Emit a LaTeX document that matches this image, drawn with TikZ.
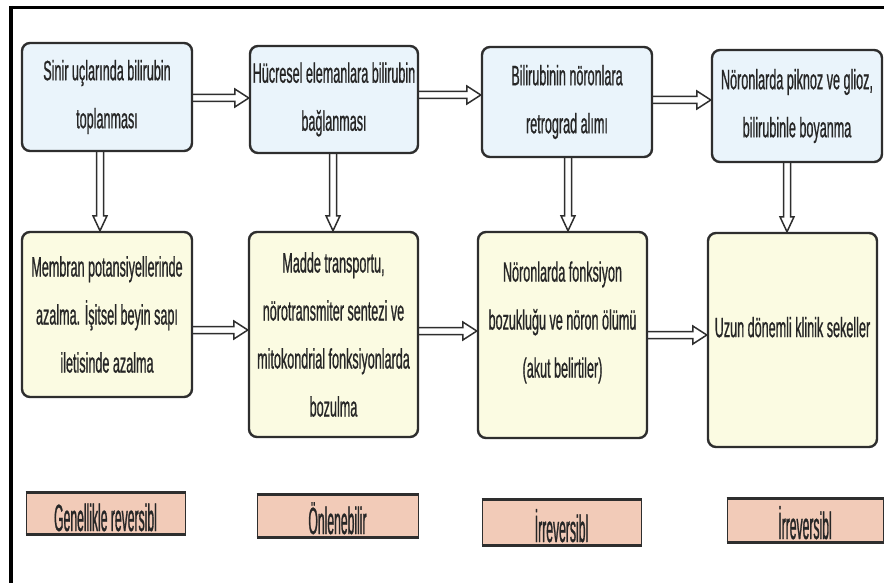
\documentclass[tikz,border=0pt]{standalone}
\usepackage{fontspec}
\setmainfont{Liberation Sans}
\newfontfamily\fontA[FakeStretch=0.45,FakeBold=0.7]{Liberation Sans}
\newfontfamily\fontC[FakeStretch=0.32,FakeBold=0.7]{Liberation Sans}
\usetikzlibrary{calc,backgrounds}
\definecolor{bluefill}{HTML}{EAF4FB}
\definecolor{yelfill}{HTML}{FBFBE2}
\definecolor{salfill}{HTML}{F2CBB8}
\definecolor{edge}{HTML}{2E2E2E}
\newcommand\harrow[2]{\path[arrowline] let \p1=(#1), \p2=(#2) in
  (\x1,\y1+3.5pt) -- (\x2-14pt,\y1+3.5pt) -- (\x2-14pt,\y1+9pt) -- (\x2,\y1)
  -- (\x2-14pt,\y1-9pt) -- (\x2-14pt,\y1-3.5pt) -- (\x1,\y1-3.5pt);}
\newcommand\varrow[2]{\path[arrowline] let \p1=(#1), \p2=(#2) in
  (\x1+3.5pt,\y1) -- (\x1+3.5pt,\y2+15pt) -- (\x1+7pt,\y2+15pt) -- (\x1,\y2)
  -- (\x1-7pt,\y2+15pt) -- (\x1-3.5pt,\y2+15pt) -- (\x1-3.5pt,\y1);}
\begin{document}
\begin{tikzpicture}[x=1pt,y=-1pt,
  box/.style={draw=edge, line width=2.4pt, rounded corners=8pt, inner sep=0pt,
    align=center, text=black!85, font=\fontA\fontsize{28}{48}\selectfont},
  toprow/.style={box, fill=bluefill},
  midrow/.style={box, fill=yelfill},
  tag/.style={draw=edge, line width=1pt, fill=salfill, inner sep=0pt,
    text=black!85, font=\fontC\fontsize{38}{38}\selectfont, text depth=3pt},
  tagline/.style={draw=edge, line width=3pt},
  arrowline/.style={draw=edge, line width=1.5pt, fill=white, line join=miter},
  frame/.style={draw=black}]
\useasboundingbox (0,0) rectangle (884,583);

% top row
\node[toprow, minimum width=170pt, minimum height=108pt] (n1) at (107,97)
  {Sinir uçlarında bilirubin\\toplanması};
\node[toprow, minimum width=168pt, minimum height=107pt] (n2) at (334,99.5)
  {Hücresel elemanlara bilirubin\\bağlanması};
\node[toprow, minimum width=170pt, minimum height=110pt] (n3) at (567,102)
  {Bilirubinin nöronlara\\retrograd alımı};
\node[toprow, minimum width=170pt, minimum height=112pt] (n4) at (797,106)
  {Nöronlarda piknoz ve glioz,\\bilirubinle boyanma};

% middle row
\node[midrow, minimum width=170pt, minimum height=165pt] (n5) at (107,314.5)
  {Membran potansiyellerinde\\azalma. İşitsel beyin sapı\\iletisinde azalma};
\node[midrow, minimum width=169pt, minimum height=205pt] (n6) at (333.5,334.5)
  {Madde transportu,\\nörotransmiter sentezi ve\\mitokondrial fonksiyonlarda\\bozulma};
\node[midrow, minimum width=169pt, minimum height=206pt, text depth=31pt] (n7) at (562.5,335)
  {Nöronlarda fonksiyon\\bozukluğu ve nöron ölümü\\(akut belirtiler)};
\node[midrow, minimum width=169pt, minimum height=214pt, text depth=26pt] (n8) at (792.5,340)
  {Uzun dönemli klinik sekeller};

% bottom tags
\node[tag, minimum width=159pt, text height=38pt] (b1) at (105.5,513.5) {Genellikle reversibl};
\node[tag, minimum width=161pt, text height=39pt] (b2) at (337.5,516) {Önlenebilir};
\node[tag, minimum width=159pt, text height=42pt] (b3) at (561.5,522.5) {İrreversibl};
\node[tag, minimum width=156pt, text height=40pt] (b4) at (805,520.5) {İrreversibl};
\foreach \b in {b1,b2,b3,b4}{
  \draw[tagline] (\b.north west) -- (\b.north east);
  \draw[tagline] (\b.south west) -- (\b.south east);
}

\begin{pgfonlayer}{background}
\fill[white] (0,0) rectangle (884,583);
\harrow{$(n1.east)+(0,1)$}{n2.west}
\harrow{$(n2.east)+(0,-4.5)$}{n3.west}
\harrow{$(n3.east)+(0,-2)$}{n4.west}
\harrow{$(n5.east)+(0,15.5)$}{n6.west}
\harrow{$(n6.east)+(0,-3.5)$}{n7.west}
\harrow{n7.east}{n8.west}
\varrow{$(n1.south)+(-7,0)$}{n5.north}
\varrow{$(n2.south)+(-1,0)$}{n6.north}
\varrow{$(n3.south)+(1,0)$}{n7.north}
\varrow{$(n4.south)+(-10,0)$}{n8.north}
\end{pgfonlayer}

% outer frame
\draw[frame, line width=3pt] (9,7.5) -- (884,7.5);
\draw[frame, line width=4pt] (11,6) -- (11,583);
\end{tikzpicture}
\end{document}
